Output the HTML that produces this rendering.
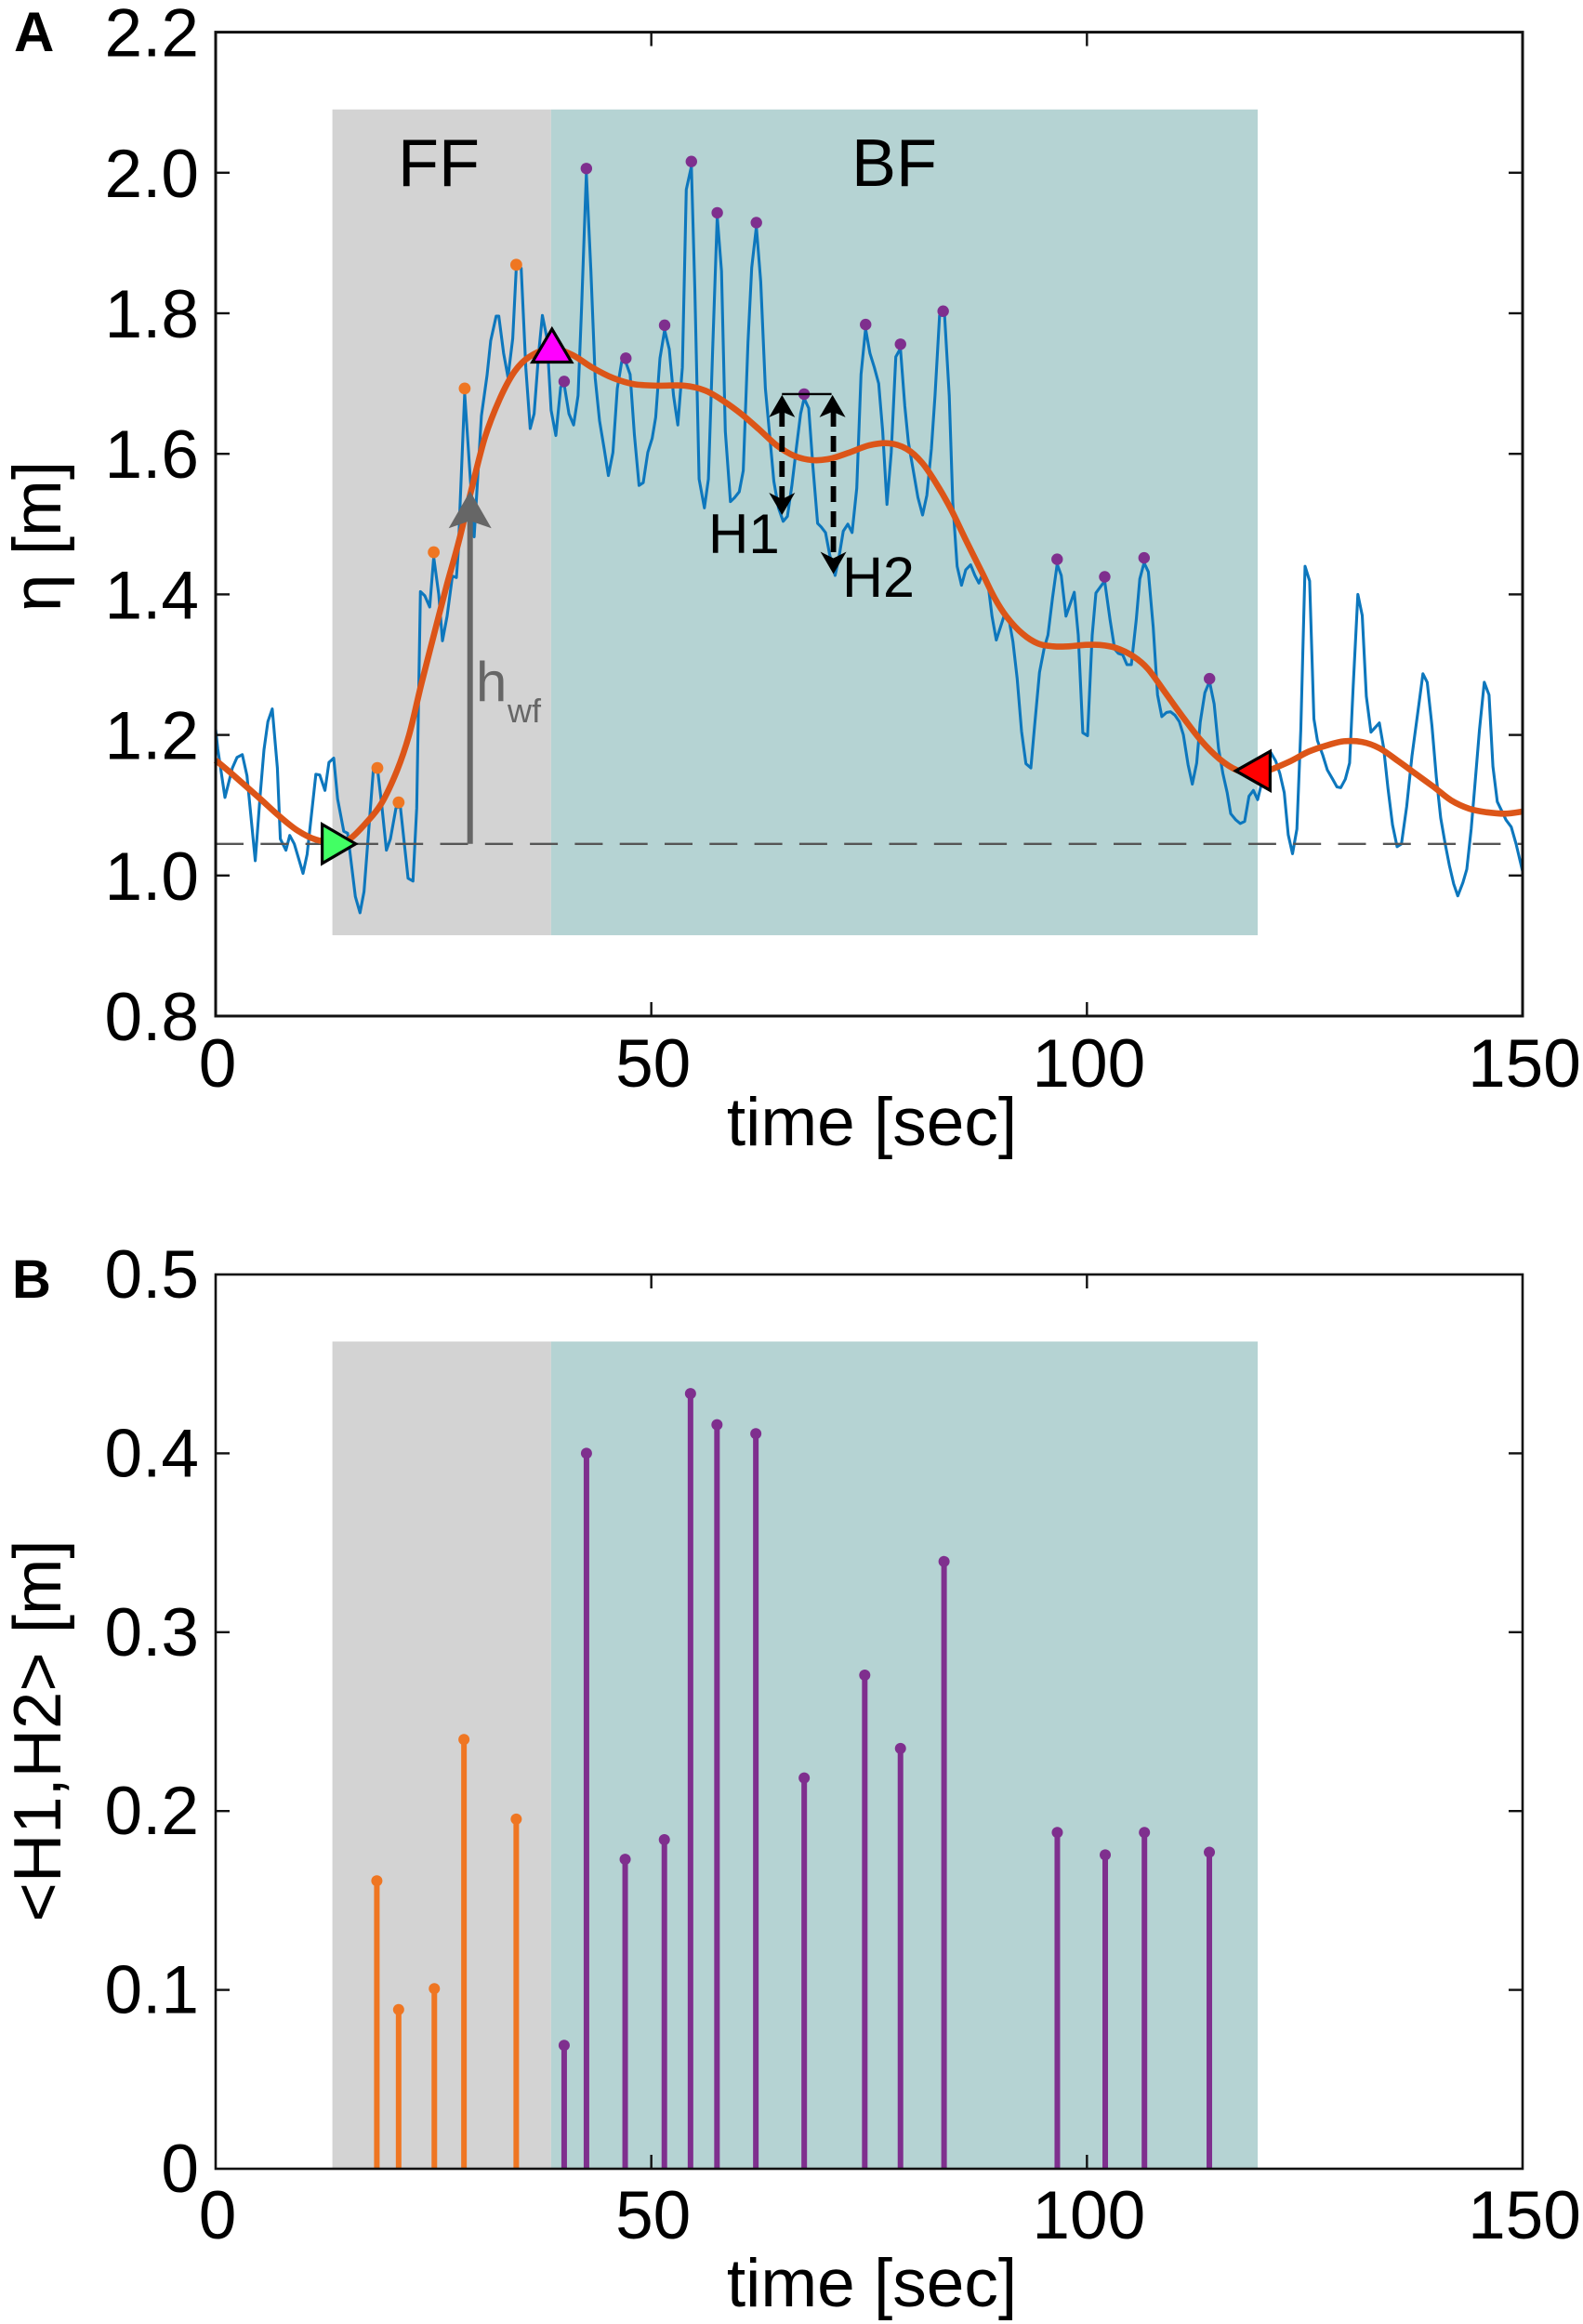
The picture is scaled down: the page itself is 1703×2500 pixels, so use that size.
<!DOCTYPE html>
<html lang="en">
<head>
<meta charset="utf-8">
<title>Wave height time series</title>
<style>
html,body{margin:0;padding:0;background:#fff;}
svg{display:block;}
text{font-family:"Liberation Sans",Arial,sans-serif;fill:#000;}
</style>
</head>
<body>
<svg id="figure" xmlns="http://www.w3.org/2000/svg" width="1703" height="2500" viewBox="0 0 1703 2500">
  <rect x="0" y="0" width="1703" height="2500" fill="#fff"/>
  <g id="panelA"></g>
  <g id="panelB"></g>
  <text x="15" y="55" font-size="60" font-weight="bold">A</text>
  <text x="13" y="1396" font-size="58" font-weight="bold">B</text>
  <text transform="translate(65,577) rotate(-90)" text-anchor="middle" font-size="73">η [m]</text>
  <text transform="translate(65,1862) rotate(-90)" text-anchor="middle" font-size="72.5">&lt;H1,H2&gt; [m]</text>
  <text x="938" y="1232" text-anchor="middle" font-size="73">time [sec]</text>
  <text x="938" y="2481" text-anchor="middle" font-size="73">time [sec]</text>
</svg>
<script>
// ---- Axis ticks ----
var xTickValues = [0, 50, 100, 150];
var xTickLabels = ["0", "50", "100", "150"];
var yTickValuesA = [0.8, 1.0, 1.2, 1.4, 1.6, 1.8, 2.0, 2.2];
var yTickLabelsA = ["0.8", "1.0", "1.2", "1.4", "1.6", "1.8", "2.0", "2.2"];
var yTickValuesB = [0, 0.1, 0.2, 0.3, 0.4, 0.5];
var yTickLabelsB = ["0", "0.1", "0.2", "0.3", "0.4", "0.5"];

// ---- Phases: time limits [sec] ----
var phaseFF = [13.4, 38.5];
var phaseBF = [38.5, 119.6];
var shadeRangeA = [0.915, 2.09];
var shadeTopB = 0.4625;

// ---- Water level [time, eta] ----
var waterLevel = [
[0,1.208],[0.25,1.18],[1.07,1.111],[1.92,1.153],[2.45,1.168],[3.06,1.172],[3.6,1.142],[4.55,1.021],[5.12,1.116],[5.55,1.179],
[6.0,1.219],[6.5,1.237],[7.08,1.153],[7.43,1.052],[8.07,1.036],[8.5,1.057],[9.03,1.045],[10.03,1.003],[10.5,1.03],[11.5,1.144],
[11.95,1.143],[12.55,1.121],[13.0,1.161],[13.55,1.167],[14.0,1.109],[14.7,1.063],[15.15,1.06],[16.04,0.97],[16.57,0.947],[17.03,0.977],
[17.57,1.065],[18.1,1.151],[18.56,1.153],[19.06,1.10],[19.6,1.036],[20.06,1.052],[20.7,1.096],[21.2,1.098],[22.08,0.996],[22.65,0.992],
[23.08,1.096],[23.5,1.404],[24.0,1.398],[24.57,1.382],[25.03,1.453],[25.6,1.40],[26.03,1.334],[26.56,1.369],[27.17,1.426],[27.63,1.424],
[27.88,1.466],[28.0,1.513],[28.58,1.686],[28.8,1.644],[29.67,1.482],[30.5,1.654],[31.15,1.712],[31.57,1.761],[32.2,1.796],[32.5,1.796],
[33.05,1.743],[33.55,1.709],[34.1,1.764],[34.5,1.864],[35.07,1.864],[35.6,1.722],[36.1,1.636],[36.55,1.657],[37.07,1.743],[37.5,1.797],
[38.03,1.764],[38.5,1.662],[39.05,1.626],[39.6,1.695],[40.0,1.699],[40.55,1.657],[41.08,1.641],[41.6,1.683],[42.0,1.809],[42.55,1.999],
[43.07,1.86],[43.56,1.708],[44.06,1.647],[44.6,1.607],[45.08,1.569],[45.6,1.602],[46.1,1.693],[46.6,1.731],[47.08,1.73],[47.57,1.713],
[48.06,1.627],[48.6,1.555],[49.08,1.559],[49.6,1.602],[50.1,1.622],[50.5,1.652],[51.0,1.736],[51.53,1.776],[52.06,1.749],[52.55,1.683],
[53.04,1.641],[53.57,1.723],[54.02,1.976],[54.6,2.009],[55.0,1.835],[55.49,1.564],[56.1,1.523],[56.55,1.564],[57.05,1.749],[57.57,1.938],
[58.06,1.86],[58.5,1.632],[59.08,1.532],[59.58,1.538],[60.1,1.546],[60.55,1.576],[61.1,1.759],[61.53,1.865],[62.06,1.923],[62.56,1.845],
[63.09,1.693],[63.58,1.627],[64.07,1.561],[64.6,1.523],[65.13,1.504],[65.62,1.511],[66.15,1.556],[66.64,1.607],[67.14,1.657],[67.54,1.679],
[68.07,1.665],[68.56,1.581],[69.09,1.501],[69.5,1.496],[70.0,1.488],[70.5,1.455],[71.1,1.427],[71.5,1.45],[72.03,1.49],[72.56,1.5],
[73.05,1.488],[73.58,1.551],[74.07,1.713],[74.6,1.778],[75.1,1.743],[75.6,1.723],[76.1,1.7],[76.56,1.632],[77.05,1.528],[77.54,1.602],
[78.06,1.738],[78.6,1.75],[79.1,1.668],[79.5,1.617],[80.0,1.581],[80.6,1.538],[81.13,1.513],[81.63,1.541],[82.15,1.607],[82.56,1.683],
[83.09,1.797],[83.66,1.797],[84.2,1.683],[84.6,1.531],[85.1,1.44],[85.6,1.413],[86.1,1.435],[86.65,1.442],[87.14,1.427],[87.6,1.416],
[88.05,1.43],[88.7,1.41],[89.1,1.369],[89.6,1.335],[90.55,1.372],[91.0,1.368],[91.5,1.333],[92.0,1.28],[92.5,1.205],[93.0,1.159],
[93.56,1.153],[94.0,1.214],[94.56,1.289],[95.1,1.324],[95.53,1.342],[96.05,1.395],[96.58,1.443],[97.05,1.427],[97.6,1.369],[98.55,1.403],
[99.0,1.342],[99.53,1.203],[100.07,1.199],[100.6,1.342],[101.03,1.402],[102.03,1.419],[102.65,1.364],[103.19,1.322],[103.6,1.316],[104.1,1.314],
[104.6,1.3],[105.1,1.3],[105.66,1.364],[106.07,1.422],[106.56,1.445],[107.05,1.432],[107.6,1.354],[108.1,1.257],[108.6,1.226],[109.14,1.232],
[109.6,1.233],[110.1,1.228],[110.6,1.219],[111.07,1.2],[111.6,1.158],[112.1,1.13],[112.6,1.16],[113.0,1.218],[113.53,1.26],[114.07,1.276],
[114.6,1.244],[115.1,1.181],[115.6,1.145],[116.1,1.118],[116.5,1.088],[117.1,1.079],[117.6,1.074],[118.1,1.077],[118.6,1.113],[119.1,1.121],
[119.6,1.108],[120.0,1.129],[120.5,1.166],[121.1,1.175],[121.66,1.163],[122.15,1.145],[122.65,1.118],[123.1,1.058],[123.6,1.031],[124.1,1.066],
[124.55,1.207],[125.04,1.44],[125.56,1.419],[126.05,1.223],[126.46,1.192],[127.07,1.171],[127.6,1.15],[128.2,1.137],[128.7,1.126],[129.13,1.125],
[129.66,1.137],[130.15,1.16],[130.56,1.27],[131.1,1.4],[131.6,1.37],[132.07,1.255],[132.6,1.204],[133.56,1.217],[134.05,1.182],[134.55,1.124],
[135.08,1.072],[135.6,1.041],[136.1,1.045],[136.7,1.098],[137.3,1.17],[138.1,1.244],[138.56,1.287],[139.05,1.275],[139.6,1.213],[140.1,1.14],
[140.6,1.082],[141.1,1.046],[141.6,1.014],[142.1,0.988],[142.56,0.971],[143.15,0.99],[143.6,1.009],[144.1,1.066],[144.5,1.124],[145.05,1.207],
[145.6,1.275],[146.15,1.257],[146.6,1.155],[147.1,1.105],[147.6,1.092],[148.1,1.079],[148.7,1.069],[149.25,1.045],[150,1.006]
];

// ---- Low-pass filtered level [time, eta] ----
var filteredLevel = [
[0,1.164],[1.92,1.144],[5.12,1.109],[7.25,1.085],[9.39,1.064],[11.5,1.051],[14,1.047],[15.4,1.052],[17.2,1.074],[19,1.102],
[20.8,1.149],[22.2,1.2],[23.6,1.272],[25,1.34],[26.46,1.41],[27.9,1.475],[29.25,1.544],[30.9,1.623],[32.6,1.678],[34.3,1.717],
[36,1.738],[38.5,1.75],[40.9,1.741],[43.2,1.723],[45.6,1.708],[48.06,1.699],[50.9,1.697],[53.8,1.697],[56.2,1.69],[58.3,1.675],
[60.3,1.657],[62.35,1.635],[64.4,1.612],[66.44,1.597],[68.5,1.591],[70.5,1.593],[72.55,1.601],[75,1.612],[77.25,1.615],[79.3,1.607],
[81.1,1.587],[82.8,1.556],[84.4,1.521],[86,1.48],[88,1.43],[89.4,1.395],[90.8,1.368],[92.6,1.344],[94.4,1.33],[96.15,1.326],
[97.9,1.326],[99.7,1.328],[101.5,1.328],[103.3,1.324],[105.3,1.312],[107,1.294],[109,1.26],[111.1,1.224],[113.1,1.192],[115.2,1.166],
[117.2,1.15],[119,1.146],[120.9,1.15],[123.4,1.163],[125.4,1.176],[127.5,1.185],[129.5,1.191],[131.6,1.19],[133.6,1.181],[135.7,1.163],
[137.7,1.145],[139.8,1.126],[141.8,1.107],[143.9,1.095],[145.9,1.09],[148,1.088],[150,1.091]
];

// ---- Wave crests on panel A [time, eta] ----
var crestsFF = [[18.56,1.153],[21.0,1.104],[25.03,1.46],[28.58,1.693],[34.5,1.869]];
var crestsBF = [[40,1.703],[42.55,2.006],[47.08,1.736],[51.53,1.783],[54.6,2.016],[57.57,1.943],[62.06,1.929],[67.54,1.685],[74.6,1.784],[78.6,1.756],[83.5,1.803],[96.58,1.45],[102.04,1.425],[106.56,1.452],[114.07,1.28]];

// ---- Wave heights on panel B ----
var heightTimesFF = [18.5, 21.0, 25.1, 28.5, 34.5];
var heightValuesFF = [0.161, 0.089, 0.1007, 0.24, 0.1955];
var heightTimesBF = [40.0, 42.56, 47.0, 51.5, 54.5, 57.54, 62.0, 67.55, 74.5, 78.6, 83.6, 96.6, 102.1, 106.6, 114.05];
var heightValuesBF = [0.069, 0.40, 0.173, 0.184, 0.4334, 0.416, 0.411, 0.2185, 0.276, 0.235, 0.3395, 0.188, 0.1755, 0.188, 0.177];

// ---- Annotations ----
var referenceLevel = [1.045];
var startMarker = [14.15, 1.045];
var peakMarker = [38.6, 1.753];
var endMarker = [119, 1.149];
var hwfArrow = [29.2, 1.045, 1.547];
var h1Arrow = [65.0, 1.685, 1.513];
var h2Arrow = [70.9, 1.685, 1.429];

// ---- Axis functions ----
function xScale(t) { return 232 + t * 9.3733; }
function yScaleA(e) { return 1093 - (e - 0.8) * 756; }
function yScaleB(v) { return 2333 - v * 1924; }

var NS = "http://www.w3.org/2000/svg";
var panelA = document.getElementById("panelA");
var panelB = document.getElementById("panelB");

function make(parent, tag, attrs) {
  var el = document.createElementNS(NS, tag);
  for (var k in attrs) { el.setAttribute(k, attrs[k]); }
  parent.appendChild(el);
  return el;
}

function drawShade(parent, yTop, yBottom) {
  var a = make(parent, "rect", {x: xScale(phaseFF[0]), y: yTop, width: xScale(phaseFF[1]) - xScale(phaseFF[0]), height: yBottom - yTop, fill: "#d3d3d3"});
  
  
  var b = make(parent, "rect", {x: xScale(phaseBF[0]), y: yTop, width: xScale(phaseBF[1]) - xScale(phaseBF[0]), height: yBottom - yTop, fill: "#b5d3d3"});
  
  
}

function drawAxes(parent, yScale, yVals, yLabels, xLabelY, frameW, yLabelOffset) {
  var left = xScale(0), right = xScale(150), top = yScale(yVals[yVals.length - 1]), bottom = yScale(yVals[0]);
  var frame = make(parent, "rect", {x: left, y: top, width: right - left, height: bottom - top, fill: "none", stroke: "#111", "stroke-width": frameW});
  
  
  xTickValues.forEach(function (v, i) {
    var x = xScale(v);
    if (i > 0 && i < xTickValues.length - 1) {
      var t1 = make(parent, "line", {x1: x, x2: x, y1: bottom, y2: bottom - 15, stroke: "#111", "stroke-width": 2.4});
      
      
      var t2 = make(parent, "line", {x1: x, x2: x, y1: top, y2: top + 15, stroke: "#111", "stroke-width": 2.4});
      
      
    }
    var lab = make(parent, "text", {x: x + 2, y: xLabelY, "text-anchor": "middle", "font-size": 73});
    lab.textContent = xTickLabels[i];
    
    
  });
  yVals.forEach(function (v, i) {
    var y = yScale(v);
    if (i > 0 && i < yVals.length - 1) {
      var t1 = make(parent, "line", {x1: left, x2: left + 15, y1: y, y2: y, stroke: "#111", "stroke-width": 2.4});
      
      
      var t2 = make(parent, "line", {x1: right, x2: right - 15, y1: y, y2: y, stroke: "#111", "stroke-width": 2.4});
      
      
    }
    var lab = make(parent, "text", {x: 214, y: y + yLabelOffset, "text-anchor": "end", "font-size": 73});
    lab.textContent = yLabels[i];
    
    
  });
}

function smoothPath(pts) {
  var p = pts.map(function (d) { return [xScale(d[0]), yScaleA(d[1])]; });
  var s = "M" + p[0][0].toFixed(1) + " " + p[0][1].toFixed(1);
  for (var i = 0; i < p.length - 1; i++) {
    var p0 = p[Math.max(i - 1, 0)], p1 = p[i], p2 = p[i + 1], p3 = p[Math.min(i + 2, p.length - 1)];
    var c1x = p1[0] + (p2[0] - p0[0]) / 6, c1y = p1[1] + (p2[1] - p0[1]) / 6;
    var c2x = p2[0] - (p3[0] - p1[0]) / 6, c2y = p2[1] - (p3[1] - p1[1]) / 6;
    s += "C" + c1x.toFixed(1) + " " + c1y.toFixed(1) + " " + c2x.toFixed(1) + " " + c2y.toFixed(1) + " " + p2[0].toFixed(1) + " " + p2[1].toFixed(1);
  }
  return s;
}

function triangle(parent, cx, cy, offsets, fill, name) {
  var pts = offsets.map(function (o) { return (cx + o[0]).toFixed(1) + "," + (cy + o[1]).toFixed(1); }).join(" ");
  var el = make(parent, "polygon", {points: pts, fill: fill, stroke: "#000", "stroke-width": 3.2, "stroke-linejoin": "miter"});
  
  
}

function arrowHead(parent, x, tipY, dir, halfW, len, notch, fill) {
  var pts = [[x, tipY], [x + halfW, tipY + dir * len], [x, tipY + dir * notch], [x - halfW, tipY + dir * len]]
    .map(function (p) { return p[0].toFixed(1) + "," + p[1].toFixed(1); }).join(" ");
  var el = make(parent, "polygon", {points: pts, fill: fill});
  
  
}

// ---------- Panel A ----------
drawShade(panelA, yScaleA(shadeRangeA[1]), yScaleA(shadeRangeA[0]));

var blue = make(panelA, "polyline", {
  points: waterLevel.map(function (d) { return xScale(d[0]).toFixed(1) + "," + yScaleA(d[1]).toFixed(1); }).join(" "),
  fill: "none", stroke: "#0d77bd", "stroke-width": 3.1, "stroke-linejoin": "round"
});



var dash = make(panelA, "line", {
  x1: xScale(0), x2: xScale(150), y1: yScaleA(referenceLevel[0]), y2: yScaleA(referenceLevel[0]),
  stroke: "#555", "stroke-width": 2.4, "stroke-dasharray": "30 18.3"
});



var red = make(panelA, "path", {d: smoothPath(filteredLevel), fill: "none", stroke: "#dc5518", "stroke-width": 6.6, "stroke-linejoin": "round"});



crestsFF.forEach(function (d) {
  var c = make(panelA, "circle", {cx: xScale(d[0]), cy: yScaleA(d[1]), r: 6.4, fill: "#ef7622"});
  
  
});
crestsBF.forEach(function (d) {
  var c = make(panelA, "circle", {cx: xScale(d[0]), cy: yScaleA(d[1]), r: 6.2, fill: "#7f2f8e"});
  
  
});

// h_wf arrow
var hwfX = xScale(hwfArrow[0]);
var hwfShaft = make(panelA, "line", {x1: hwfX, x2: hwfX, y1: yScaleA(hwfArrow[1]), y2: yScaleA(hwfArrow[2]) + 30, stroke: "#666", "stroke-width": 6});


arrowHead(panelA, hwfX, yScaleA(hwfArrow[2]), 1, 23, 40, 32, "#666");

// H1 / H2 bracket and arrows
var h1X = xScale(h1Arrow[0]), h2X = xScale(h2Arrow[0]);
var bracket = make(panelA, "line", {x1: h1X, x2: h2X - 2, y1: yScaleA(h1Arrow[1]), y2: yScaleA(h2Arrow[1]), stroke: "#000", "stroke-width": 2.4});


[[h1X, h1Arrow, "h1-arrow-shaft"], [h2X, h2Arrow, "h2-arrow-shaft"]].forEach(function (a) {
  var top = yScaleA(a[1][1]), bottom = yScaleA(a[1][2]);
  var s = make(panelA, "line", {x1: a[0], x2: a[0], y1: top + 18, y2: bottom - 16, stroke: "#000", "stroke-width": 5.8, "stroke-dasharray": "17 10"});
  
  
  arrowHead(panelA, a[0] - (a[0] === h2X ? 1 : 0), top + 1, 1, 14, 24, 18, "#000");
  arrowHead(panelA, a[0], bottom, -1, 14, 24, 17, "#000");
});

triangle(panelA, xScale(startMarker[0]), yScaleA(startMarker[1]), [[-18, -21], [-18, 21], [18, 0]], "#42ff64", "wave-front-start-marker");
triangle(panelA, xScale(peakMarker[0]), yScaleA(peakMarker[1]), [[0, -18.5], [21, 17], [-21, 17]], "#ff00ff", "wave-peak-marker");
triangle(panelA, xScale(endMarker[0]), yScaleA(endMarker[1]), [[-18, 0], [19, -21], [19, 21]], "#ff0000", "wave-end-marker");

drawAxes(panelA, yScaleA, yTickValuesA, yTickLabelsA, 1169, 3, 26);

[["FF", 428, 200, 72, "#000", "ff-phase-label"],
 ["BF", 916, 200, 72, "#000", "bf-phase-label"],
 ["H1", 762, 595, 60, "#000", "h1-label"],
 ["H2", 906, 642, 61, "#000", "h2-label"],
 ["h", 512, 754, 60, "#666", "hwf-label"],
 ["wf", 546, 777, 36, "#666", "hwf-subscript"]].forEach(function (d) {
  var t = make(panelA, "text", {x: d[1], y: d[2], "font-size": d[3], style: "fill:" + d[4]});
  t.textContent = d[0];
  
  
});

// ---------- Panel B ----------
drawShade(panelB, yScaleB(shadeTopB), yScaleB(0));

function drawStems(times, values, color, stemName, dotName) {
  times.forEach(function (t, i) {
    var x = xScale(t);
    var s = make(panelB, "line", {x1: x, x2: x, y1: yScaleB(0), y2: yScaleB(values[i]), stroke: color, "stroke-width": 6});
    
    
    var c = make(panelB, "circle", {cx: x, cy: yScaleB(values[i]), r: 6, fill: color});
    
    
  });
}
drawStems(heightTimesFF, heightValuesFF, "#ef7622", "ff-wave-height-stem", "ff-wave-height-point");
drawStems(heightTimesBF, heightValuesBF, "#7f2f8e", "bf-wave-height-stem", "bf-wave-height-point");

drawAxes(panelB, yScaleB, yTickValuesB, yTickLabelsB, 2408, 2.6, 25);
</script>
</body>
</html>
